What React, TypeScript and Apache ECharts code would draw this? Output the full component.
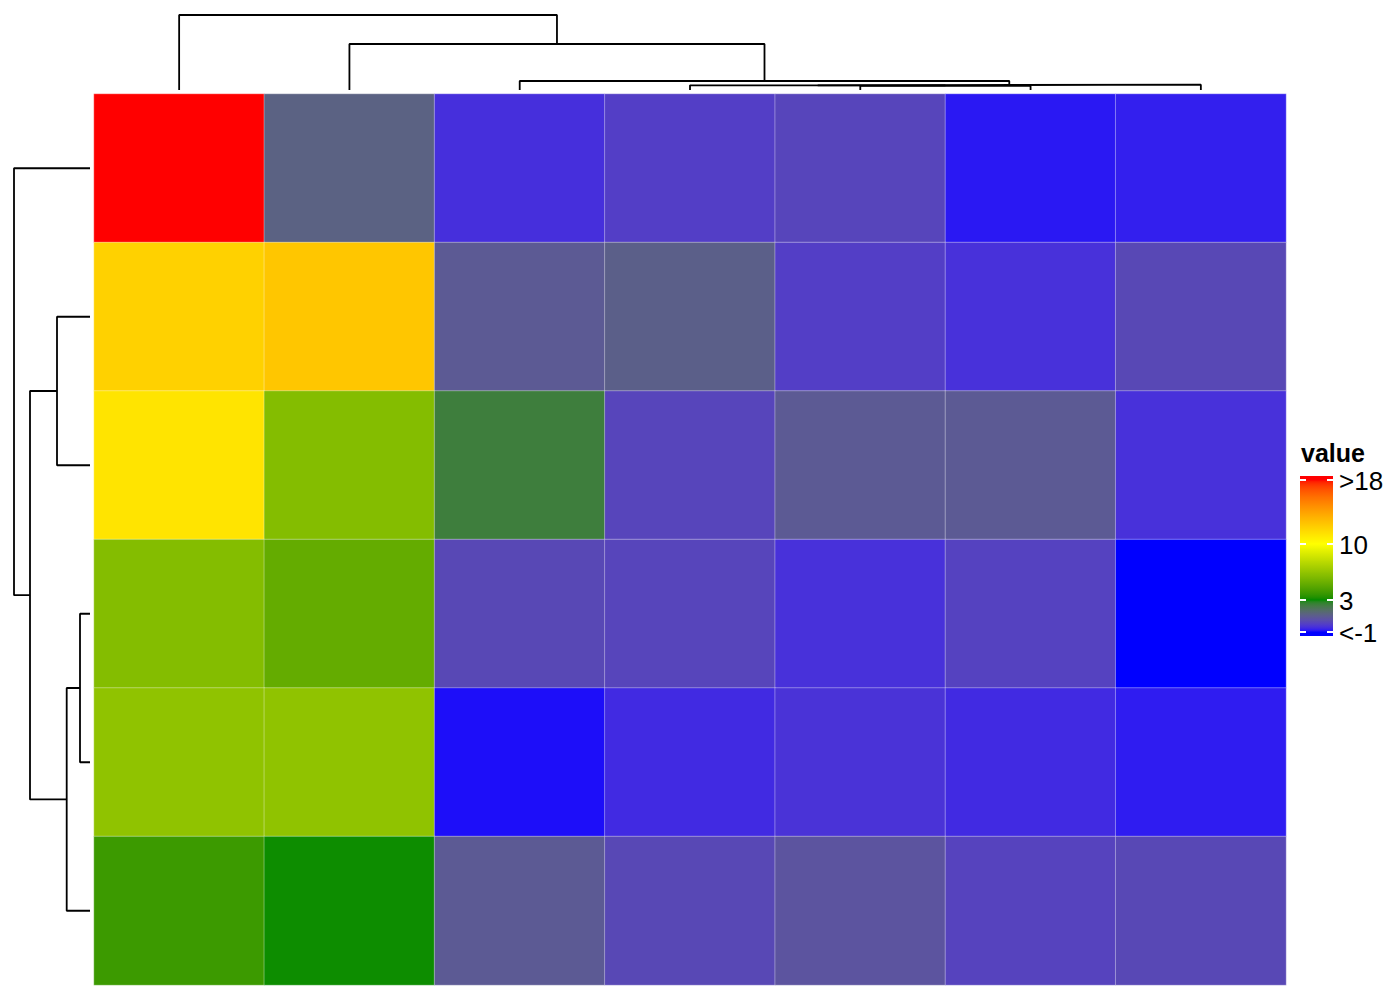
import React, { useEffect, useRef } from "react";
import * as echarts from "echarts";

// ---------- data ----------
const colNames = ["c1", "c2", "c3", "c4", "c5", "c6", "c7"];
const rowNames = ["r1", "r2", "r3", "r4", "r5", "r6"];

const row1 = [18.3, 1.2, -0.4, 0.0, 0.2, -0.8, -0.7];
const row2 = [12.0, 12.5, 0.9, 1.1, 0.0, -0.35, 0.3];
const row3 = [11.2, 6.0, 2.4, 0.2, 0.9, 0.9, -0.35];
const row4 = [6.0, 5.0, 0.3, 0.2, -0.35, 0.1, -1.2];
const row5 = [6.4, 6.4, -0.9, -0.5, -0.3, -0.5, -0.75];
const row6 = [3.9, 3.1, 0.9, 0.3, 0.7, 0.15, 0.3];
const rowValues = [row1, row2, row3, row4, row5, row6];

// hclust-style merges: negative = leaf (1-based position), positive = earlier merge
const colMerges: [number, number, number][] = [
  [-5, -6, 4.2],
  [-4, 1, 4.7],
  [2, -7, 5.3],
  [-3, 3, 9],
  [-2, 4, 46],
  [-1, 5, 75],
];
const rowMerges: [number, number, number][] = [
  [-4, -5, 10],
  [-2, -3, 33],
  [1, -6, 23.3],
  [2, 3, 60],
  [-1, 4, 76],
];

const scaleBreaks = [-1, 3, 10, 18];
const scaleColors = ["#0000FF", "#008B00", "#FFFF00", "#FF0000"];
const legendTicks = [18, 10, 3, -1];
const legendLabels = [">18", "10", "3", "<-1"];
const legendTitle = "value";
const barMin = -1.5;
const barMax = 18.5;

// ---------- color helpers (Lab interpolation) ----------
function hexToRgb(h: string) {
  const n = parseInt(h.slice(1), 16);
  return [(n >> 16) & 255, (n >> 8) & 255, n & 255];
}
const toLin = (c: number) => {
  c /= 255;
  return c <= 0.04045 ? c / 12.92 : Math.pow((c + 0.055) / 1.055, 2.4);
};
const toS = (c: number) => {
  const v = c <= 0.0031308 ? 12.92 * c : 1.055 * Math.pow(Math.max(c, 0), 1 / 2.4) - 0.055;
  return Math.round(Math.min(1, Math.max(0, v)) * 255);
};
function rgbToLab(rgb: number[]) {
  const R = toLin(rgb[0]), G = toLin(rgb[1]), B = toLin(rgb[2]);
  const X = (0.4124 * R + 0.3576 * G + 0.1805 * B) / 0.95047;
  const Y = 0.2126 * R + 0.7152 * G + 0.0722 * B;
  const Z = (0.0193 * R + 0.1192 * G + 0.9505 * B) / 1.08883;
  const f = (t: number) => (t > 0.008856 ? Math.cbrt(t) : 7.787 * t + 16 / 116);
  const fx = f(X), fy = f(Y), fz = f(Z);
  return [116 * fy - 16, 500 * (fx - fy), 200 * (fy - fz)];
}
function labToHex(lab: number[]) {
  const fy = (lab[0] + 16) / 116;
  const fx = fy + lab[1] / 500;
  const fz = fy - lab[2] / 200;
  const finv = (t: number) => (t * t * t > 0.008856 ? t * t * t : (t - 16 / 116) / 7.787);
  const X = 0.95047 * finv(fx), Y = finv(fy), Z = 1.08883 * finv(fz);
  const R = 3.2406 * X - 1.5372 * Y - 0.4986 * Z;
  const G = -0.9689 * X + 1.8758 * Y + 0.0415 * Z;
  const B = 0.0557 * X - 0.204 * Y + 1.057 * Z;
  const hx = (v: number) => toS(v).toString(16).padStart(2, "0");
  return "#" + hx(R) + hx(G) + hx(B);
}
const labStops = scaleColors.map((c) => rgbToLab(hexToRgb(c)));
function colorAt(v: number) {
  const x = Math.min(scaleBreaks[scaleBreaks.length - 1], Math.max(scaleBreaks[0], v));
  let i = 0;
  while (i < scaleBreaks.length - 2 && x > scaleBreaks[i + 1]) i++;
  const t = (x - scaleBreaks[i]) / (scaleBreaks[i + 1] - scaleBreaks[i]);
  const a = labStops[i], b = labStops[i + 1];
  return labToHex([a[0] + (b[0] - a[0]) * t, a[1] + (b[1] - a[1]) * t, a[2] + (b[2] - a[2]) * t]);
}

// ---------- dendrogram geometry ----------
function dendroSegments(merges: [number, number, number][]) {
  const pos: number[] = [];
  const hgt: number[] = [];
  const segs: number[][][] = [];
  const get = (id: number) => (id < 0 ? [-id - 0.5, 0] : [pos[id - 1], hgt[id - 1]]);
  merges.forEach(([a, b, h]) => {
    const [pa, ha] = get(a);
    const [pb, hb] = get(b);
    segs.push([
      [pa, ha],
      [pa, h],
      [pb, h],
      [pb, hb],
    ]);
    pos.push((pa + pb) / 2);
    hgt.push(h);
  });
  return segs;
}

export default function App() {
  const ref = useRef<HTMLDivElement>(null);
  useEffect(() => {
    if (!ref.current) return;
    const chart = echarts.init(ref.current, null, { renderer: "svg" });

    const heatData: number[][] = [];
    rowValues.forEach((r, ri) => r.forEach((v, ci) => heatData.push([ci, ri, v])));

    const steps: string[] = [];
    const N = 200;
    for (let k = 0; k <= N; k++) steps.push(colorAt(barMin + ((barMax - barMin) * k) / N));

    const hm = { left: 94, top: 94, width: 1192, height: 891 };
    const topD = { left: 94, top: 15, width: 1192, height: 75 };
    const leftD = { left: 14, top: 94, width: 76, height: 891 };

    const colSegs = dendroSegments(colMerges);
    const rowSegs = dendroSegments(rowMerges);
    const colRoot = colMerges[colMerges.length - 1][2];
    const rowRoot = rowMerges[rowMerges.length - 1][2];

    const lineStyle = { color: "#000", width: 1.8 };
    const dSeries: any[] = [];
    colSegs.forEach((s) =>
      dSeries.push({
        type: "line",
        xAxisIndex: 1,
        yAxisIndex: 1,
        data: s,
        symbol: "none",
        lineStyle,
        silent: true,
      })
    );
    rowSegs.forEach((s) =>
      dSeries.push({
        type: "line",
        xAxisIndex: 2,
        yAxisIndex: 2,
        data: s.map(([p, h]) => [h, p]),
        symbol: "none",
        lineStyle,
        silent: true,
      })
    );

    // legend bar
    const bar = { x: 1300, y: 476, w: 33, h: 160 };
    const yOf = (v: number) => bar.y + ((barMax - v) / (barMax - barMin)) * bar.h;
    const gradStops = steps
      .map((c, k) => ({ offset: 1 - k / N, color: c }))
      .reverse();
    const graphics: any[] = [
      {
        type: "rect",
        shape: { x: bar.x, y: bar.y, width: bar.w, height: bar.h },
        style: { fill: new echarts.graphic.LinearGradient(0, 0, 0, 1, gradStops) },
      },
      {
        type: "text",
        x: bar.x + 1,
        y: bar.y - 23,
        style: {
          text: legendTitle,
          font: "bold 25px 'Liberation Sans', Arial, sans-serif",
          fill: "#000",
          verticalAlign: "middle",
        },
      },
    ];
    legendTicks.forEach((v, i) => {
      const y = yOf(v);
      graphics.push({
        type: "line",
        shape: { x1: bar.x, y1: y, x2: bar.x + 6, y2: y },
        style: { stroke: "#fff", lineWidth: 2 },
      });
      graphics.push({
        type: "line",
        shape: { x1: bar.x + bar.w - 6, y1: y, x2: bar.x + bar.w, y2: y },
        style: { stroke: "#fff", lineWidth: 2 },
      });
      graphics.push({
        type: "text",
        x: bar.x + bar.w + 6,
        y: y + 1,
        style: {
          text: legendLabels[i],
          font: "26px 'Liberation Sans', Arial, sans-serif",
          fill: "#000",
          verticalAlign: "middle",
        },
      });
    });

    chart.setOption({
      animation: false,
      backgroundColor: "#fff",
      grid: [hm, topD, leftD],
      xAxis: [
        { type: "category", data: colNames, gridIndex: 0, show: false },
        { type: "value", gridIndex: 1, min: 0, max: colNames.length, show: false },
        { type: "value", gridIndex: 2, min: 0, max: rowRoot, inverse: true, show: false },
      ],
      yAxis: [
        { type: "category", data: rowNames, gridIndex: 0, inverse: true, show: false },
        { type: "value", gridIndex: 1, min: 0, max: colRoot, show: false },
        { type: "value", gridIndex: 2, min: 0, max: rowNames.length, inverse: true, show: false },
      ],
      visualMap: {
        show: false,
        type: "continuous",
        min: barMin,
        max: barMax,
        seriesIndex: 0,
        dimension: 2,
        inRange: { color: steps },
      },
      graphic: graphics,
      series: [
        {
          type: "heatmap",
          xAxisIndex: 0,
          yAxisIndex: 0,
          data: heatData,
          itemStyle: { borderColor: "rgba(255,255,255,0.35)", borderWidth: 1 },
          emphasis: { disabled: true },
        },
        ...dSeries,
      ],
    });
    return () => chart.dispose();
  }, []);
  return (
    <div
      ref={ref}
      style={{ position: "fixed", left: 0, top: 0, width: 1400, height: 1000 }}
    />
  );
}
